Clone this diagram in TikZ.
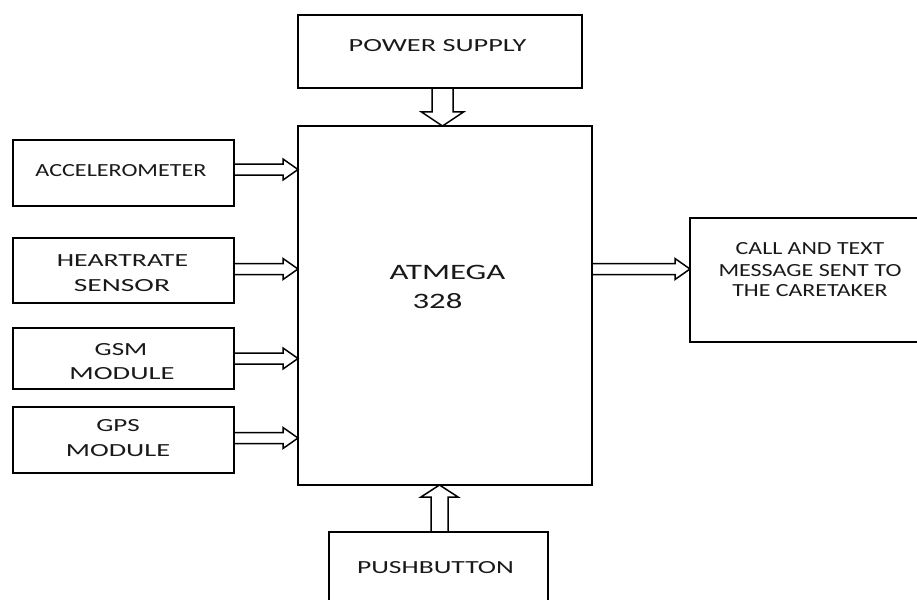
\documentclass[tikz,border=0pt]{standalone}
\usepackage{fontspec}
\usepackage{graphicx}
\setmainfont{Carlito}[FakeStretch=1.33]
\usetikzlibrary{calc}
\tikzset{
  blk/.style={draw=black, line width=1.8pt, inner sep=0pt, outer sep=0pt},
  arrowline/.style={draw=black, line width=1.5pt, line join=miter},
  lbl/.style={anchor=base, inner sep=0pt, text=black!90, font=\fontsize{18.5}{22}\selectfont},
  big/.style={lbl, font=\fontsize{22}{26}\selectfont}
}
\newcommand\sx[2]{\scalebox{#1}[1]{#2}}
\newcommand\harrow[3]{%
  \draw[arrowline] let \p1=(#1.east), \p2=(#2.west), \p3=(0,#3) in
    (\x1,\y3+5.5pt) -- (\x2-15pt,\y3+5.5pt) -- (\x2-15pt,\y3+10.5pt) -- (\x2,\y3)
    -- (\x2-15pt,\y3-10.5pt) -- (\x2-15pt,\y3-5.5pt) -- (\x1,\y3-5.5pt);}
\newcommand\darrow[6]{% src anchor, dst anchor, x, shaft hw, head hw, head len
  \draw[arrowline] let \p1=(#1), \p2=(#2), \p3=(#3,0) in
    (\x3-#4pt,\y1) -- (\x3-#4pt,\y2+#6pt) -- (\x3-#5pt,\y2+#6pt) -- (\x3,\y2)
    -- (\x3+#5pt,\y2+#6pt) -- (\x3+#4pt,\y2+#6pt) -- (\x3+#4pt,\y1);}
\newcommand\uarrow[6]{%
  \draw[arrowline] let \p1=(#1), \p2=(#2), \p3=(#3,0) in
    (\x3-#4pt,\y1) -- (\x3-#4pt,\y2-#6pt) -- (\x3-#5pt,\y2-#6pt) -- (\x3,\y2)
    -- (\x3+#5pt,\y2-#6pt) -- (\x3+#4pt,\y2-#6pt) -- (\x3+#4pt,\y1);}
\begin{document}
\begin{tikzpicture}[x=1pt,y=-1pt]
\path[use as bounding box, fill=white] (0,0) rectangle (917,599);
\clip (0,0) rectangle (917,599);
% boxes
\node[blk, minimum width=284pt, minimum height=73pt] (pwr) at (440,51.5) {};
\node[blk, minimum width=294pt, minimum height=359pt] (atm) at (445,305.5) {};
\node[blk, minimum width=221pt, minimum height=66pt] (acc) at (123.5,173) {};
\node[blk, minimum width=221pt, minimum height=65pt] (hr) at (123.5,270.5) {};
\node[blk, minimum width=221pt, minimum height=61pt] (gsm) at (123.5,358.5) {};
\node[blk, minimum width=221pt, minimum height=66pt] (gps) at (123.5,440) {};
\node[blk, minimum width=240pt, minimum height=124pt] (call) at (810,280) {};
\node[blk, minimum width=219pt, minimum height=100pt] (push) at (438.5,582) {};
% texts
\node[lbl] (tpwr) at (437.5,52) {\sx{1.15}{POWER SUPPLY}};
\node[lbl] (tacc) at (121,176.7) {\sx{0.98}{ACCELEROMETER}};
\node[lbl] (thr1) at (122.5,266.7) {\sx{1.13}{HEARTRATE}};
\node[lbl] (thr2) at (122,291) {\sx{1.2}{SENSOR}};
\node[lbl] (tgsm1) at (121,355) {\sx{1.1}{GSM}};
\node[lbl] (tgsm2) at (122,379) {\sx{1.16}{MODULE}};
\node[lbl] (tgps1) at (118,431.7) {\sx{1.1}{GPS}};
\node[lbl] (tgps2) at (118,456.7) {\sx{1.15}{MODULE}};
\node[big] (tatm1) at (447.5,279.3) {\sx{1.12}{ATMEGA}};
\node[big] (tatm2) at (437.5,308) {\sx{1.12}{328}};
\node[lbl] (tc1) at (810,254) {\sx{0.97}{CALL AND TEXT}};
\node[lbl] (tc2) at (810,276) {\sx{0.98}{MESSAGE SENT TO}};
\node[lbl] (tc3) at (810,296.7) {\sx{0.97}{THE CARETAKER}};
\node[lbl] (tpush) at (435.5,573.3) {\sx{1.12}{PUSHBUTTON}};
% arrows
\harrow{acc}{atm}{169.5}
\harrow{hr}{atm}{269}
\harrow{gsm}{atm}{358.5}
\harrow{gps}{atm}{438}
\harrow{atm}{call}{269}
\darrow{pwr.south}{atm.north}{442.5}{10.5}{21}{14}
\uarrow{push.north}{atm.south}{439.5}{8.5}{18.5}{12}
\end{tikzpicture}
\end{document}
